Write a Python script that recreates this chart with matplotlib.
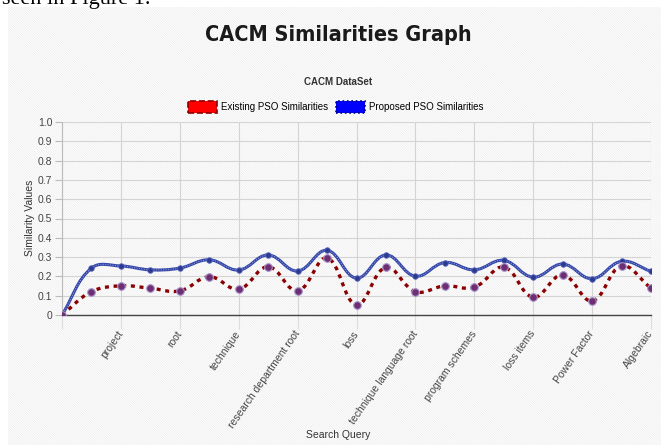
import matplotlib
matplotlib.use('Agg')

import matplotlib.pyplot as plt
import matplotlib.patches as patches
from matplotlib.path import Path
import numpy as np

# data (21 query points, labels shown on every other one)
existing = [0, 0.121, 0.151, 0.139, 0.125, 0.198, 0.134, 0.250, 0.125, 0.295, 0.052,
            0.247, 0.121, 0.151, 0.144, 0.248, 0.092, 0.208, 0.073, 0.254, 0.139]
proposed = [0, 0.243, 0.254, 0.234, 0.243, 0.286, 0.233, 0.311, 0.228, 0.335, 0.191,
            0.311, 0.201, 0.272, 0.234, 0.283, 0.196, 0.264, 0.188, 0.278, 0.226]
tick_labels = ['', 'project', 'root', 'technique', 'research department root', 'loss',
               'technique language root', 'program schemes', 'loss items', 'Power Factor',
               'Algebraic']
y_ticks = [i / 10 for i in range(11)]

narrow = ['Liberation Sans Narrow', 'Liberation Sans', 'DejaVu Sans']
plt.rcParams['font.family'] = narrow
plt.rcParams['hatch.linewidth'] = 0.5

W, H = 661, 445
fig = plt.figure(figsize=(W / 100, H / 100), dpi=100)

# striped screenshot background
bg = patches.Rectangle((8 / W, 0), 1, 1 - 7 / H, transform=fig.transFigure,
                       facecolor='white', edgecolor='#ececec', hatch='\\' * 14,
                       linewidth=0, zorder=-10)
fig.patches.append(bg)

# cut-off line of document text above the chart
fig.text(2 / W, 1 - 4 / H, 'seen in Figure 1.', family='Liberation Serif',
         fontsize=16, va='baseline', ha='left')

fig.text(338 / W, 1 - 35 / H, 'CACM Similarities Graph', fontsize=15.5,
         family='DejaVu Sans', fontstretch='condensed', fontweight='bold',
         ha='center', va='center', color='#1a1a1a')
fig.text(338 / W, 1 - 82 / H, 'CACM DataSet', fontsize=7, fontweight='bold',
         ha='center', va='center', color='#333333')

ax = fig.add_axes([62 / W, 1 - 315 / H, 589 / W, 193 / H])
ax.set_facecolor('none')


def spline_path(xs, ys, sx, sy, t=0.4):
    # chart.js style bezier through the points (computed in pixel-ish space)
    p = np.column_stack([np.asarray(xs) * sx, np.asarray(ys) * sy])
    n = len(p)
    cp_prev = p.copy()
    cp_next = p.copy()
    for i in range(n):
        a = p[max(i - 1, 0)]
        b = p[i]
        c = p[min(i + 1, n - 1)]
        d01 = np.hypot(*(b - a))
        d12 = np.hypot(*(c - b))
        tot = d01 + d12
        if tot == 0:
            continue
        fa = t * d01 / tot
        fb = t * d12 / tot
        cp_prev[i] = b - fa * (c - a)
        cp_next[i] = b + fb * (c - a)
    verts = [p[0]]
    codes = [Path.MOVETO]
    for i in range(1, n):
        verts += [cp_next[i - 1], cp_prev[i], p[i]]
        codes += [Path.CURVE4] * 3
    verts = np.array(verts) / [sx, sy]
    return Path(verts, codes)


x = np.arange(len(existing))
sx, sy = 29.45, 193.0

blue_path = spline_path(x, proposed, sx, sy)
ax.add_patch(patches.PathPatch(blue_path, fill=False, edgecolor='#3446a8',
                               linewidth=2.2, zorder=3))
ax.add_patch(patches.PathPatch(blue_path, fill=False, edgecolor='#9aa6dc',
                               linewidth=0.7, linestyle=(0, (1, 1.5)), zorder=3))
red_path = spline_path(x, existing, sx, sy)
ax.add_patch(patches.PathPatch(red_path, fill=False, edgecolor='#8b0000',
                               linewidth=2.4, linestyle=(0, (1.2, 1.4)), zorder=4))

ax.plot(x, proposed, 'o', color='#2b3990', markersize=4, markeredgecolor='#5a6ac0',
        markeredgewidth=0.6, zorder=5)
ax.plot(x, existing, 'o', color='#6e2f72', markersize=5.5, markeredgecolor='#a994cc',
        markeredgewidth=0.8, zorder=6)

ax.set_xlim(0, len(existing) - 1)
ax.set_ylim(0, 1.0)

ax.set_yticks(y_ticks)
ax.set_yticklabels(['0'] + ['%.1f' % v for v in y_ticks[1:]])
ax.set_xticks(x[::2])
ax.set_xticklabels(tick_labels, rotation=55, ha='right', va='center',
                   rotation_mode='anchor')

ax.tick_params(axis='y', length=5, width=0.8, color='#bbbbbb', pad=2,
               labelsize=7.5, labelcolor='#444444')
ax.tick_params(axis='x', length=10, width=0.8, color='#dddddd', pad=2,
               labelsize=7.5, labelcolor='#444444')
ax.grid(True, color='#d4d4d4', linewidth=0.8)
ax.set_axisbelow(True)

for s in ['top', 'right']:
    ax.spines[s].set_visible(False)
ax.spines['left'].set_color('#bbbbbb')
ax.spines['bottom'].set_color('#444444')
ax.spines['bottom'].set_linewidth(1)

fig.text(30 / W, 1 - 218 / H, 'Similarity Values', rotation=90, fontsize=7.5,
         ha='center', va='center', color='#333333')
fig.text(338 / W, 1 - 435 / H, 'Search Query', fontsize=7.5,
         ha='center', va='center', color='#333333')

h_red = patches.Patch(facecolor='#ff0000', edgecolor='#8b0000', linestyle='--',
                      linewidth=1.2)
h_blue = patches.Patch(facecolor='#0000ff', edgecolor='#000080', linestyle=':',
                       linewidth=1.2)
fig.legend([h_red, h_blue], ['Existing PSO Similarities', 'Proposed PSO Similarities'],
           loc='center', bbox_to_anchor=(336 / W, 1 - 107 / H), ncol=2, frameon=False,
           fontsize=7, handlelength=3.0, handleheight=1.4, columnspacing=0.8,
           handletextpad=0.4)

plt.savefig('out.png', dpi=100)
